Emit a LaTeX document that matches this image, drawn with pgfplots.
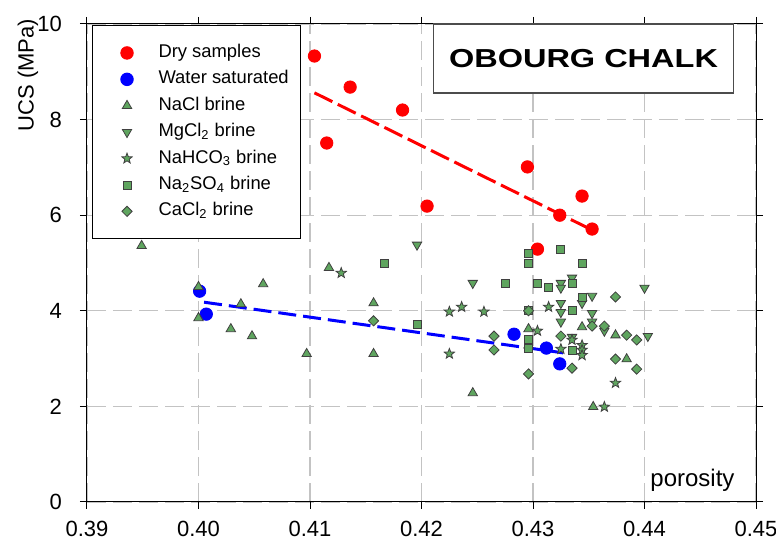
\documentclass[border=0pt]{standalone}
\usepackage{graphicx}
\usepackage{pgfplots}
\pgfplotsset{compat=1.18}
\usepackage{pgfplotstable}
\usepackage{fontspec}
\setmainfont{Liberation Sans}
\definecolor{gfill}{RGB}{95,165,95}
\definecolor{gridgray}{RGB}{195,195,195}
\tikzset{gmark/.style={fill=gfill, draw=black!75, line width=0.4pt}}
\pgfdeclareplotmark{fstar}{%
  \pgfpathmoveto{\pgfpointpolar{90}{\pgfplotmarksize}}%
  \pgfpathlineto{\pgfpointpolar{126}{0.42\pgfplotmarksize}}%
  \pgfpathlineto{\pgfpointpolar{162}{\pgfplotmarksize}}%
  \pgfpathlineto{\pgfpointpolar{198}{0.42\pgfplotmarksize}}%
  \pgfpathlineto{\pgfpointpolar{234}{\pgfplotmarksize}}%
  \pgfpathlineto{\pgfpointpolar{270}{0.42\pgfplotmarksize}}%
  \pgfpathlineto{\pgfpointpolar{306}{\pgfplotmarksize}}%
  \pgfpathlineto{\pgfpointpolar{342}{0.42\pgfplotmarksize}}%
  \pgfpathlineto{\pgfpointpolar{18}{\pgfplotmarksize}}%
  \pgfpathlineto{\pgfpointpolar{54}{0.42\pgfplotmarksize}}%
  \pgfpathclose\pgfusepathqfillstroke}

\pgfplotstableread{
x y
0.4104 9.33
0.4115 7.51
0.4136 8.68
0.4183 8.20
0.4205 6.19
0.4295 7.01
0.4304 5.29
0.4324 6.00
0.4344 6.40
0.4353 5.71
}\drydata
\pgfplotstableread{
x y
0.4001 4.41
0.4007 3.93
0.4283 3.51
0.4312 3.22
0.4324 2.89
}\waterdata
\pgfplotstableread{
x y
0.3949 5.36
0.4000 4.50
0.4000 3.85
0.4038 4.14
0.4058 4.56
0.4029 3.62
0.4048 3.47
0.4117 4.90
0.4157 4.16
0.4097 3.10
0.4157 3.10
0.4246 2.28
0.4296 3.62
0.4296 3.28
0.4344 3.66
0.4374 3.49
0.4384 2.99
0.4354 1.99
}\nacl
\pgfplotstableread{
x y
0.4196 5.38
0.4246 4.58
0.4325 4.58
0.4325 4.48
0.4335 4.69
0.4325 4.16
0.4325 3.97
0.4325 3.77
0.4335 3.45
0.4344 4.16
0.4353 4.31
0.4353 3.95
0.4353 3.77
0.4364 3.58
0.4400 4.48
0.4403 3.47
}\mgcl
\pgfplotstableread{
x y
0.4128 4.79
0.4225 3.98
0.4236 4.08
0.4256 3.98
0.4314 4.08
0.4304 3.58
0.4225 3.10
0.4325 3.20
0.4335 3.39
0.4344 3.28
0.4344 3.18
0.4344 3.07
0.4374 2.49
0.4364 1.99
}\nahco
\pgfplotstableread{
x y
0.4167 5.00
0.4196 3.72
0.4275 4.58
0.4296 5.21
0.4296 5.00
0.4296 4.00
0.4296 3.41
0.4296 3.22
0.4304 4.58
0.4314 4.48
0.4325 5.29
0.4335 4.58
0.4335 4.00
0.4335 3.18
0.4344 5.00
0.4344 4.29
}\naso
\pgfplotstableread{
x y
0.4157 3.79
0.4265 3.47
0.4265 3.18
0.4296 4.00
0.4296 2.68
0.4325 3.47
0.4335 2.80
0.4374 4.29
0.4353 3.68
0.4364 3.68
0.4384 3.49
0.4393 3.39
0.4374 2.99
0.4393 2.78
}\cacl

\begin{document}
\begin{tikzpicture}
\begin{axis}[
  scale only axis, width=334.5pt, height=239pt,
  xmin=0.39, xmax=0.45, ymin=0, ymax=10,
  xtick={0.39,0.40,0.41,0.42,0.43,0.44,0.45},
  xticklabels={0.39,0.40,0.41,0.42,0.43,0.44,0.45},
  ytick={0,2,4,6,8,10},
  yticklabels={0,2,4,6,8,10},
  /pgf/number format/assume math mode=true,
  tick align=outside, major tick length=3.5pt,
  tick style={black, line width=0.5pt},
  axis line style={black, line width=0.5pt},
  grid=major,
  major grid style={gridgray, line width=0.6pt, dash pattern=on 9.5pt off 3.5pt},
  xticklabel style={font=\fontsize{11}{13}\selectfont, yshift=-2.5pt},
  yticklabel style={font=\fontsize{11}{13}\selectfont, xshift=-5.5pt},
  ylabel={UCS (MPa)},
  ylabel style={at={(axis description cs:-0.0882,0.893)}, anchor=center, font=\fontsize{11}{13}\selectfont},
  legend style={at={(rel axis cs:0.0075,0.998)}, anchor=north west, draw=black, line width=0.5pt, fill=white,
    font=\fontsize{9.2}{10}\selectfont, inner xsep=3pt, inner ysep=8pt, row sep=1.7pt,
    nodes={inner ysep=1pt, inner xsep=3pt, text height=7pt, text depth=2.5pt}},
  legend cell align=left,
  legend image code/.code={\draw[#1] plot coordinates {(14pt,0pt)}; \path (0pt,0pt) (26.5pt,0pt);},
]
\coordinate (sw) at (rel axis cs:0,0);
\coordinate (ne) at (rel axis cs:1,1);

\addplot[only marks, mark=*, mark size=3.1pt, color=red] table {\drydata};
\addlegendentry{Dry samples}
\addplot[only marks, mark=*, mark size=3.1pt, color=blue] table {\waterdata};
\addlegendentry{Water saturated}

\addplot[red, line width=1.5pt, dash pattern=on 10pt off 3pt, forget plot] coordinates {(0.4104,8.56) (0.4353,5.69)};
\addplot[blue, line width=1.5pt, dash pattern=on 9pt off 3.5pt, forget plot] coordinates {(0.4005,4.18) (0.4327,3.12)};

\addplot[only marks, mark=triangle*, mark size=2.7pt, mark options={gmark}] table {\nacl};
\addlegendentry{NaCl brine}
\addplot[only marks, mark=triangle*, mark size=2.7pt, mark options={gmark, rotate=180}] table {\mgcl};
\addlegendentry{MgCl\textsubscript{2} brine}
\addplot[only marks, mark=fstar, mark size=2.7pt, mark options={gmark}] table {\nahco};
\addlegendentry{NaHCO\textsubscript{3} brine}
\addplot[only marks, mark=square*, mark size=2pt, mark options={gmark}] table {\naso};
\addlegendentry{Na\textsubscript{2}SO\textsubscript{4} brine}
\addplot[only marks, mark=square*, mark size=1.8pt, mark options={gmark, rotate=45}] table {\cacl};
\addlegendentry{CaCl\textsubscript{2} brine}

\node[draw=black!70, line width=0.6pt, fill=white, minimum width=150pt, minimum height=34.5pt,
  font=\fontsize{13}{15}\selectfont\bfseries] at (rel axis cs:0.7422,0.9278) {\scalebox{1.25}[1]{OBOURG CHALK}};
\node[font=\fontsize{12}{14}\selectfont] at (rel axis cs:0.905,0.045) {porosity};
\end{axis}
\pgfresetboundingbox
\path ([shift={(-43.5pt,-21.5pt)}]sw) rectangle ([shift={(10pt,12pt)}]ne);
\end{tikzpicture}
\end{document}
